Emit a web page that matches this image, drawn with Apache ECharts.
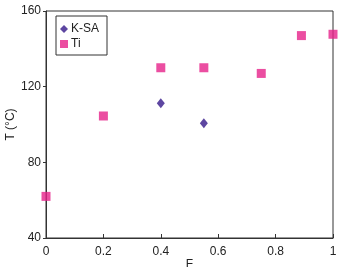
<!DOCTYPE html>
<html>
<head>
<meta charset="utf-8">
<script src="https://cdn.jsdelivr.net/npm/echarts@6/dist/echarts.min.js"></script>
<style>
  html, body { margin: 0; padding: 0; background: #fff; }
  #chart { width: 339px; height: 267px; }
</style>
</head>
<body>
<div id="chart"></div>
<script>
// datos
const tiF = [0, 0.2, 0.4, 0.55, 0.75, 0.89, 1];
const tiT = [62, 104.5, 130, 130, 127, 147, 147.7];
const ksaF = [0.4, 0.55];
const ksaT = [111.2, 100.6];

const font = "Liberation Sans, Arial, sans-serif";

const chart = echarts.init(document.getElementById("chart"));

const option = {
  animation: false,
  textStyle: { fontFamily: font },
  grid: {
    left: 46,
    right: 6,
    top: 11,
    bottom: 29,
    outerBoundsMode: "none",
    containLabel: false,
    show: true,
    borderColor: "#333",
    borderWidth: 1,
  },
  legend: {
    orient: "vertical",
    left: 56,
    top: 16,
    padding: [7, 8, 5, 4],
    borderColor: "#333",
    borderWidth: 1,
    itemGap: 3,
    itemWidth: 8,
    itemHeight: 8,
    textStyle: { fontFamily: font, fontSize: 12, color: "#222", padding: [0, 0, 0, -2] },
    data: [
      { name: "K-SA", icon: "diamond" },
      { name: "Ti", icon: "rect" },
    ],
  },
  xAxis: {
    type: "value",
    min: 0,
    max: 1,
    interval: 0.2,
    name: "F",
    nameLocation: "middle",
    nameGap: 21,
    nameMoveOverlap: false,
    nameTextStyle: { fontFamily: font, fontSize: 12, color: "#222" },
    axisLine: { lineStyle: { color: "#333" } },
    axisTick: { inside: true, length: 4, lineStyle: { color: "#333" } },
    axisLabel: { fontFamily: font, fontSize: 12, color: "#222", margin: 8 },
    splitLine: { show: false },
  },
  yAxis: {
    type: "value",
    min: 40,
    max: 160,
    interval: 40,
    name: "T (°C)",
    nameLocation: "middle",
    nameGap: 29,
    nameMoveOverlap: false,
    nameTextStyle: { fontFamily: font, fontSize: 12, color: "#222" },
    axisLine: { show: true, lineStyle: { color: "#333" } },
    axisTick: { show: true, length: 3, lineStyle: { color: "#333" } },
    axisLabel: { fontFamily: font, fontSize: 12, color: "#222", margin: 5 },
    splitLine: { show: false },
  },
  series: [
    {
      name: "K-SA",
      type: "scatter",
      symbol: "diamond",
      symbolSize: [8, 10],
      itemStyle: { color: "#34188a" },
      data: ksaF.map((f, i) => [f, ksaT[i]]),
      z: 3,
    },
    {
      name: "Ti",
      type: "scatter",
      symbol: "rect",
      symbolSize: [9, 9],
      itemStyle: { color: "#e6228a" },
      data: tiF.map((f, i) => [f, tiT[i]]),
      z: 3,
    },
  ],
};

chart.setOption(option);
</script>
</body>
</html>
